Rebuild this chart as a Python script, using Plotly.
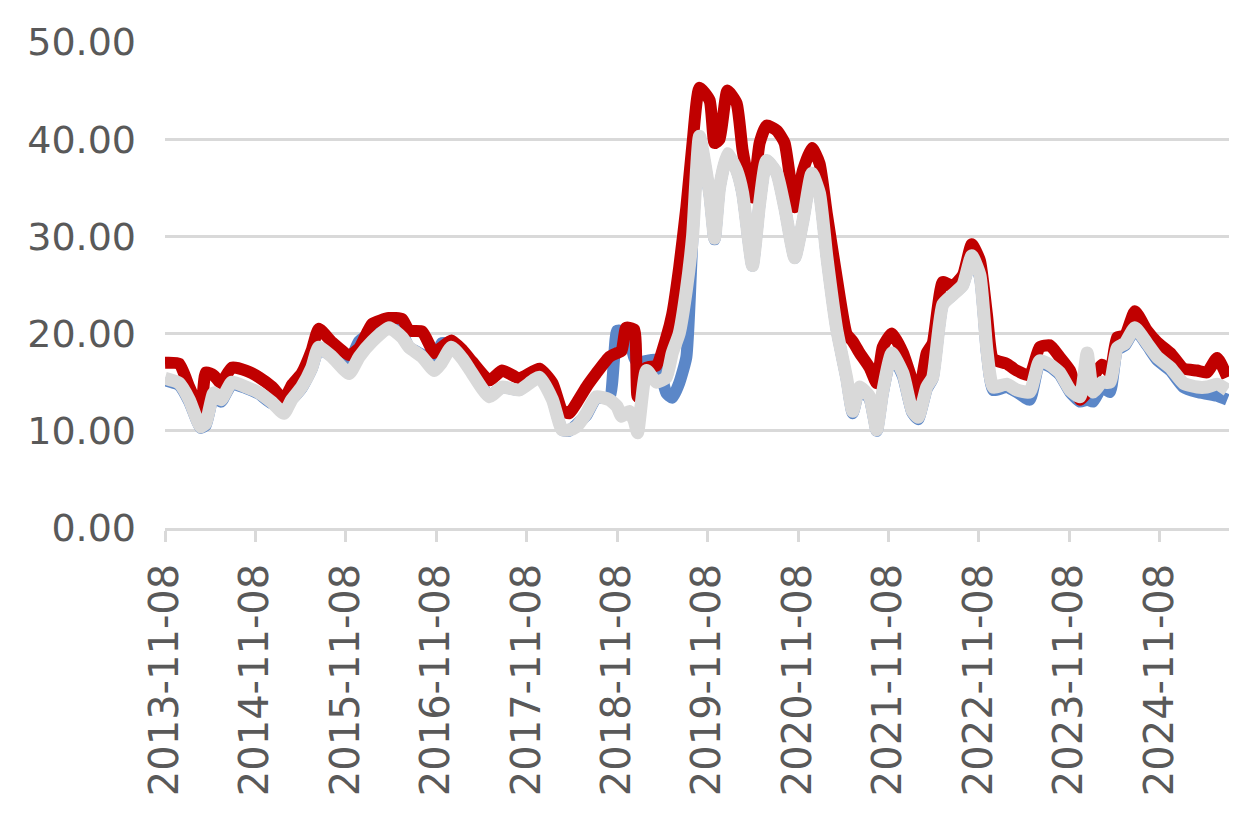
import plotly.graph_objects as go

dates = [
    "2013-11-08", "2014-01-04", "2014-02-14", "2014-04-01", "2014-04-22", "2014-05-24",
    "2014-06-22", "2014-08-05", "2014-10-01", "2014-11-23", "2015-01-15", "2015-03-03",
    "2015-04-04", "2015-05-14", "2015-06-24", "2015-07-22", "2015-09-14", "2015-11-22",
    "2016-01-01", "2016-02-23", "2016-05-01", "2016-06-23", "2016-07-21", "2016-09-12",
    "2016-10-31", "2016-11-29", "2017-01-08", "2017-02-22", "2017-04-02", "2017-06-10",
    "2017-08-01", "2017-10-09", "2017-12-29", "2018-02-20", "2018-03-31", "2018-04-29",
    "2018-05-27", "2018-07-07", "2018-08-16", "2018-10-08", "2018-11-08", "2018-11-26",
    "2018-12-14", "2018-12-28", "2019-01-17", "2019-01-30", "2019-03-07", "2019-04-16",
    "2019-05-26", "2019-06-19", "2019-07-17", "2019-08-15", "2019-09-09", "2019-10-07",
    "2019-11-17", "2019-12-07", "2019-12-27", "2020-01-28", "2020-03-05", "2020-03-29",
    "2020-05-08", "2020-06-06", "2020-07-04", "2020-08-14", "2020-09-15", "2020-10-26",
    "2020-11-28", "2021-01-03", "2021-02-03", "2021-03-04", "2021-04-13", "2021-05-23",
    "2021-06-17", "2021-07-15", "2021-08-24", "2021-09-22", "2021-10-16", "2021-11-22",
    "2022-01-06", "2022-02-12", "2022-03-08", "2022-04-12", "2022-05-06", "2022-06-16",
    "2022-07-26", "2022-09-05", "2022-10-11", "2022-11-13", "2022-12-11", "2023-01-05",
    "2023-03-01", "2023-04-10", "2023-06-02", "2023-07-12", "2023-08-22", "2023-10-01",
    "2023-11-12", "2023-12-22", "2024-01-20", "2024-02-13", "2024-03-20", "2024-04-21",
    "2024-05-20", "2024-06-21", "2024-07-31", "2024-09-18", "2024-10-29", "2024-12-21",
    "2025-02-12", "2025-04-08", "2025-05-18", "2025-06-28", "2025-08-08",
]

red_series = [
    17.0, 16.9, 14.5, 12.0, 16.0, 15.7,
    14.9, 16.5, 16.2, 15.5, 14.5, 13.2,
    14.7, 15.9, 18.3, 20.5, 19.1, 17.8,
    18.5, 21.0, 21.6, 21.5, 20.3, 20.2,
    18.0, 18.6, 19.3, 18.3, 17.1, 15.2,
    16.2, 15.4, 16.4, 14.9, 12.1, 11.8,
    12.8, 14.5, 15.9, 17.6, 18.0, 18.2,
    20.6, 20.6, 20.4, 13.5, 16.5, 16.7,
    19.6, 22.0, 26.8, 33.0, 39.6, 45.3,
    44.0, 39.6, 40.0, 45.0, 43.7, 38.9,
    34.0, 39.6, 41.4, 40.9, 39.6, 33.0,
    36.8, 39.1, 37.5, 32.4, 25.8, 20.0,
    19.2, 18.0, 16.5, 14.9, 18.6, 20.0,
    18.0, 15.2, 13.5, 18.0, 19.0, 25.3,
    24.9, 26.0, 29.2, 27.5, 22.0, 17.4,
    16.9, 16.2, 15.7, 18.6, 18.8, 17.6,
    16.2, 13.2, 14.0, 15.5, 16.8, 16.0,
    19.6, 19.8, 22.3, 20.3, 19.1, 18.0,
    16.4, 16.2, 16.0, 17.5, 15.5,
]

gray_series = [
    15.4, 14.9, 13.2, 10.4, 10.8, 13.9,
    13.2, 15.0, 14.5, 13.9, 12.9, 11.8,
    13.2, 14.5, 16.5, 18.6, 17.6, 15.9,
    17.6, 19.2, 20.6, 19.6, 18.6, 17.6,
    16.2, 17.0, 18.6, 17.4, 15.9, 13.5,
    14.5, 14.2, 15.5, 13.2, 10.1, 10.1,
    10.4, 11.8, 13.5, 13.2, 12.5, 11.5,
    11.8, 12.0, 11.0, 9.8, 16.2, 15.0,
    15.5, 18.0, 20.0, 24.5, 30.0, 40.3,
    34.4, 29.8, 35.0, 38.5, 36.8, 34.5,
    27.0, 33.4, 37.8, 36.5, 33.0, 27.8,
    31.6, 36.5, 34.4, 28.0, 20.5, 15.5,
    12.0, 14.5, 13.5, 10.1, 14.0, 18.0,
    15.9, 12.1, 11.4, 14.5, 15.5, 23.0,
    24.0, 25.0, 28.0, 26.0, 18.3, 14.5,
    14.8, 14.2, 14.0, 17.2, 16.8, 16.0,
    14.2, 13.5, 18.0, 14.0, 15.0, 15.0,
    18.5, 19.0, 20.6, 19.0, 17.6, 16.5,
    14.9, 14.5, 14.5, 14.8, 14.2,
]

blue_series = [
    15.2, 14.7, 13.0, 10.3, 10.6, 13.7,
    13.0, 14.8, 14.4, 13.8, 12.8, 13.5,
    13.3, 14.4, 16.4, 18.4, 17.7, 17.2,
    19.2, 20.2, 21.2, 20.0, 18.6, 17.8,
    17.0, 19.0, 18.9, 18.0, 16.2, 13.6,
    14.5, 14.2, 15.8, 13.3, 10.1, 10.0,
    10.6, 11.6, 13.4, 13.4, 20.3, 20.3,
    20.3, 19.5, 17.5, 17.0, 17.2, 17.3,
    13.9, 13.4, 14.9, 17.6, 30.0, 40.2,
    34.3, 29.7, 35.0, 38.4, 36.8, 34.4,
    27.0, 33.4, 37.8, 36.5, 33.0, 27.8,
    31.6, 36.5, 34.4, 28.0, 20.5, 15.4,
    11.8, 14.3, 13.3, 10.0, 13.8, 17.8,
    15.6, 11.9, 11.2, 14.3, 15.4, 23.0,
    24.0, 25.0, 27.8, 25.8, 18.0, 14.2,
    14.5, 14.0, 13.2, 17.0, 16.6, 15.8,
    14.0, 13.0, 13.2, 13.0, 14.5, 14.0,
    18.3, 18.8, 20.4, 18.8, 17.3, 16.2,
    14.5, 14.0, 13.8, 13.6, 13.2,
]

tick_dates = [
    "2013-11-08", "2014-11-08", "2015-11-08", "2016-11-08", "2017-11-08", "2018-11-08",
    "2019-11-08", "2020-11-08", "2021-11-08", "2022-11-08", "2023-11-08", "2024-11-08",
]
y_ticks = [0, 10, 20, 30, 40, 50]

fig = go.Figure()
fig.add_trace(go.Scatter(x=dates, y=blue_series, mode="lines",
                         line=dict(color="#5B87C8", width=12, shape="spline", smoothing=0.5),
                         showlegend=False))
fig.add_trace(go.Scatter(x=dates, y=red_series, mode="lines",
                         line=dict(color="#C00000", width=12, shape="spline", smoothing=0.5),
                         showlegend=False))
fig.add_trace(go.Scatter(x=dates, y=gray_series, mode="lines",
                         line=dict(color="#D9D9D9", width=13, shape="spline", smoothing=0.5),
                         showlegend=False))

fig.update_layout(
    width=1242, height=822,
    margin=dict(l=157, r=21, t=34, b=302),
    paper_bgcolor="white", plot_bgcolor="white",
    font=dict(family="DejaVu Sans", color="#595959"),
)
fig.update_xaxes(
    type="date",
    range=["2013-11-08", "2025-08-15"],
    tickmode="array", tickvals=tick_dates, ticktext=tick_dates,
    tickangle=-90, tickfont=dict(size=40, color="#595959"),
    showgrid=False, showline=True, linecolor="#D9D9D9", linewidth=2.5,
    ticks="outside", ticklen=11, tickwidth=2.5, tickcolor="#D9D9D9",
    ticklabelstandoff=6,
    zeroline=False,
)
fig.update_yaxes(
    range=[0, 50], tickmode="array", tickvals=y_ticks, tickformat=".2f",
    tickfont=dict(size=38, color="#595959"),
    showgrid=True, gridcolor="#D9D9D9", gridwidth=2.5,
    showline=False, zeroline=False, ticks="",
    ticklabelstandoff=28,
)

fig.write_html("out.html")
